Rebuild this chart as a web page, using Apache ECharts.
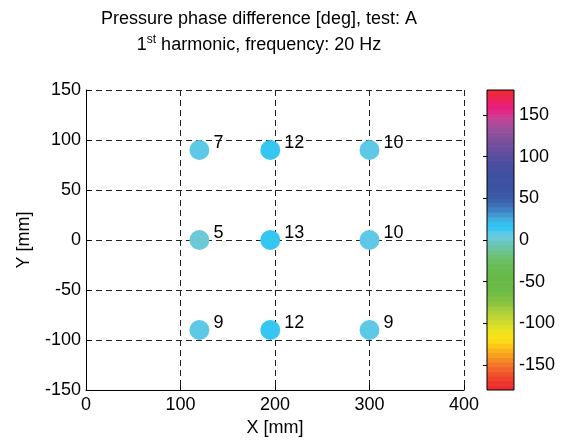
<!DOCTYPE html>
<html>
<head>
<meta charset="utf-8">
<script src="https://cdn.jsdelivr.net/npm/echarts@6/dist/echarts.min.js"></script>
<style>
html,body{margin:0;padding:0;background:#fff;}
#chart{width:565px;height:444px;}
</style>
</head>
<body>
<div id="chart"></div>
<script>
// ---- data ----
var xPos = [120, 195, 300, 120, 195, 300, 120, 195, 300];
var yPos = [90, 90, 90, 0, 0, 0, -90, -90, -90];
var phase = [7, 12, 10, 5, 13, 10, 9, 12, 9];
var xTicks = [0, 100, 200, 300, 400];
var yTicks = [-150, -100, -50, 0, 50, 100, 150];
var cbTicks = [-150, -100, -50, 0, 50, 100, 150];
var cbMin = -180, cbMax = 180;
var colormap = [
 '#ec2a2f','#ed352e','#ef432d','#f0532b','#f2652a','#f37829','#f68b24','#f89f20',
 '#fab31b','#fcc717','#fdd914','#f7e118','#eee41e','#dde026','#d1db2c','#c2d633',
 '#b1d039','#9fcb3d','#8dc541','#7ec143','#73bd45','#6cbb46','#69ba47','#68ba48',
 '#67ba4a','#67bb4e','#68bc55','#69be62','#6bc074','#6bc28a','#6ac4a2','#6ac6bc',
 '#6ccad8','#5ec9e6','#35c6f2','#33c0ee','#3eaee0','#4296d0','#3f80c2','#3d6fb6',
 '#3b63ac','#3a5aa6','#3a56a3','#3b53a2','#3c52a2','#3e51a1','#4250a1','#474fa0',
 '#4e4ea0','#564e9f','#5f4e9f','#694f9e','#744f9d','#7f509c','#8b509b','#98509b',
 '#a84c9a','#bb4597','#d03a90','#e12a86','#e91e7c','#eb2066','#ec2550','#ed2a3a'
];

function colorFor(v){
  var n = colormap.length;
  var i = Math.floor((v - cbMin) / (cbMax - cbMin) * n);
  i = Math.max(0, Math.min(n - 1, i));
  return colormap[i];
}

var pts = xPos.map(function(x, i){ return [x, yPos[i], phase[i]]; });
var bands = colormap.map(function(c, i){ return [i]; });

var FONT = 'Liberation Sans, Arial, Helvetica, sans-serif';
var FS = 18;
var chart = echarts.init(document.getElementById('chart'), null, {renderer:'canvas'});
var gridLine = {show:true, lineStyle:{color:'#222', type:[6,4], width:1}};

chart.setOption({
  animation:false,
  backgroundColor:'#fff',
  title:[
    {text:'Pressure phase difference [deg], test: A', left:254, top:5, textAlign:'center',
     textStyle:{fontFamily:FONT, fontSize:FS, fontWeight:'normal', color:'#000'}},
    {text:'{n|1}{sup|st}{n| harmonic, frequency: 20 Hz}', left:254, top:28, textAlign:'center',
     textStyle:{fontFamily:FONT, fontSize:FS, fontWeight:'normal', color:'#000',
       rich:{n:{fontFamily:FONT, fontSize:FS, color:'#000', lineHeight:24},
             sup:{fontFamily:FONT, fontSize:12, color:'#000', lineHeight:24, padding:[0,0,10,0]}}}}
  ],
  grid:[
    {left:86, top:90, width:378, height:300},
    {left:487, top:90, width:27, height:300, show:true, borderColor:'#000', borderWidth:1, backgroundColor:'transparent', z:10}
  ],
  xAxis:[
    {gridIndex:0, type:'value', min:0, max:400, interval:100,
     name:'X [mm]', nameLocation:'middle', nameGap:29,
     nameTextStyle:{fontFamily:FONT, fontSize:FS, color:'#000'},
     axisLine:{show:true, onZero:false, lineStyle:{color:'#000', width:1}},
     axisTick:{show:true, inside:true, length:5, lineStyle:{color:'#000'}},
     axisLabel:{fontFamily:FONT, fontSize:FS, color:'#000', margin:6, customValues:xTicks},
     splitLine:gridLine},
    {gridIndex:1, type:'value', min:0, max:1, show:false}
  ],
  yAxis:[
    {gridIndex:0, type:'value', min:-150, max:150, interval:50,
     name:'Y [mm]', nameLocation:'middle', nameGap:53, nameRotate:90,
     nameTextStyle:{fontFamily:FONT, fontSize:FS, color:'#000'},
     axisLine:{show:true, onZero:false, lineStyle:{color:'#000', width:1}},
     axisTick:{show:true, inside:true, length:5, lineStyle:{color:'#000'}},
     axisLabel:{fontFamily:FONT, fontSize:FS, color:'#000', margin:5, customValues:yTicks},
     splitLine:gridLine},
    {gridIndex:1, type:'value', min:cbMin, max:cbMax, position:'right',
     axisLine:{show:false},
     axisTick:{show:true, inside:true, length:4, lineStyle:{color:'#000'}, customValues:cbTicks},
     axisLabel:{fontFamily:FONT, fontSize:FS, color:'#000', margin:5, customValues:cbTicks},
     splitLine:{show:false}},
    {gridIndex:1, type:'value', min:cbMin, max:cbMax, position:'left',
     axisLine:{show:false},
     axisTick:{show:true, inside:true, length:4, lineStyle:{color:'#000'}, customValues:cbTicks},
     axisLabel:{show:false},
     splitLine:{show:false}}
  ],
  series:[
    {type:'scatter', xAxisIndex:0, yAxisIndex:0, data:pts, symbolSize:20,
     itemStyle:{opacity:1, color:function(p){ return colorFor(p.value[2]); }},
     label:{show:true, position:[24,-6], formatter:function(p){return String(p.value[2]);},
            fontFamily:FONT, fontSize:FS, color:'#000'},
     z:5},
    {type:'custom', xAxisIndex:1, yAxisIndex:1, data:bands, clip:true,
     renderItem:function(params, api){
       var i = api.value(0);
       var n = colormap.length;
       var v0 = cbMin + (cbMax - cbMin) * i / n;
       var v1 = cbMin + (cbMax - cbMin) * (i + 1) / n;
       var p0 = api.coord([0, v0]);
       var p1 = api.coord([1, v1]);
       return {type:'rect', shape:{x:p0[0], y:p1[1], width:p1[0]-p0[0], height:p0[1]-p1[1]+0.6},
               style:{fill:colormap[i], stroke:null}};
     }}
  ]
});
</script>
</body>
</html>
